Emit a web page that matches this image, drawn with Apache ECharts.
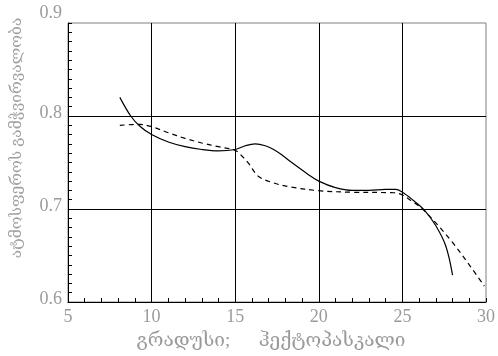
<!DOCTYPE html>
<html>
<head>
<meta charset="utf-8">
<script src="https://cdn.jsdelivr.net/npm/echarts@6/dist/echarts.min.js"></script>
<style>
  html,body{margin:0;padding:0;background:#fff;}
  #chart{width:498px;height:356px;}
</style>
</head>
<body>
<div id="chart"></div>
<script>
  var xTicks = [5, 10, 15, 20, 25, 30];
  var yTicks = [0.6, 0.7, 0.8, 0.9];

  var solidX = [8.1, 8.75, 9.3, 10, 11, 12, 13, 14, 15, 15.6, 16.2, 16.8, 17.3, 17.8, 18.3, 19.3, 20, 21, 22, 23, 24, 24.6, 25, 25.6, 26.3, 27, 27.6, 28];
  var solidY = [0.820, 0.800, 0.789, 0.780, 0.772, 0.767, 0.764, 0.7625, 0.764, 0.768, 0.770, 0.768, 0.764, 0.758, 0.751, 0.738, 0.730, 0.723, 0.720, 0.720, 0.721, 0.721, 0.718, 0.710, 0.699, 0.682, 0.660, 0.629];

  var dashX = [8.1, 9.3, 10, 11, 12, 13, 14, 15, 15.4, 15.8, 16.4, 17.3, 18.3, 20, 22, 24.5, 25, 25.6, 26.2, 27, 28, 29, 29.9];
  var dashY = [0.790, 0.791, 0.7885, 0.782, 0.776, 0.771, 0.767, 0.763, 0.757, 0.749, 0.735, 0.728, 0.7237, 0.7197, 0.718, 0.7175, 0.715, 0.708, 0.700, 0.685, 0.664, 0.640, 0.617];

  var yTitle = 'ატმოსფეროს გამჭვირვალობა';
  var xTitle = 'გრადუსი;      ჰექტოპასკალი';

  function pairs(xs, ys){
    return xs.map(function(x, i){ return [x, ys[i]]; });
  }

  var serif = '"Liberation Serif", "DejaVu Serif", serif';
  var chart = echarts.init(document.getElementById('chart'));

  var option = {
    animation: false,
    grid: {
      left: 68, right: 7, top: 23, bottom: 53,
      show: true, borderColor: '#808080', borderWidth: 1
    },
    xAxis: {
      type: 'value',
      min: xTicks[0], max: xTicks[xTicks.length - 1], interval: 5,
      axisLine: {lineStyle: {color: '#000', width: 1}},
      axisTick: {inside: true, length: 4, lineStyle: {color: '#000'}},
      minorTick: {show: true, splitNumber: 5, length: 4, lineStyle: {color: '#000'}},
      splitLine: {show: true, showMinLine: false, showMaxLine: false, lineStyle: {color: '#000', width: 1}},
      axisLabel: {color: '#9a9a9a', fontFamily: serif, fontSize: 18, margin: 6},
      name: xTitle,
      nameLocation: 'middle',
      nameGap: 30,
      nameTextStyle: {color: '#9a9a9a', fontFamily: serif, fontSize: 19, padding: [0, 12, 0, 0]}
    },
    yAxis: {
      type: 'value',
      min: yTicks[0], max: yTicks[yTicks.length - 1], interval: 0.1,
      axisLine: {show: true, lineStyle: {color: '#000', width: 1}},
      axisTick: {show: true, inside: true, length: 4, lineStyle: {color: '#000'}},
      minorTick: {show: true, splitNumber: 10, length: 4, lineStyle: {color: '#000'}},
      splitLine: {show: true, showMinLine: false, showMaxLine: false, lineStyle: {color: '#000', width: 1}},
      axisLabel: {
        color: '#9a9a9a', fontFamily: serif, fontSize: 18, margin: 6,
        formatter: function(v, i){
          var s = v.toFixed(1);
          return i === yTicks.length - 1 ? '{t|' + s + '}' : '{n|' + s + '}';
        },
        rich: {
          n: {color: '#9a9a9a', fontFamily: serif, fontSize: 18, padding: [0, 0, 5, 0]},
          t: {color: '#9a9a9a', fontFamily: serif, fontSize: 18, padding: [0, 0, 20, 0]}
        }
      }
    },
    graphic: [{
      type: 'text',
      x: 17, y: 138,
      rotation: Math.PI / 2,
      style: {
        text: yTitle,
        fill: '#a0a0a0',
        font: '15.5px "Liberation Serif", "DejaVu Serif", serif',
        align: 'center',
        verticalAlign: 'middle'
      }
    }],
    series: [{
      type: 'line',
      data: pairs(solidX, solidY),
      smooth: 0.35,
      symbol: 'none',
      lineStyle: {color: '#000', width: 1.2},
      z: 5
    }, {
      type: 'line',
      data: pairs(dashX, dashY),
      smooth: 0.35,
      symbol: 'none',
      lineStyle: {color: '#000', width: 1.2, type: [5, 4]},
      z: 5
    }]
  };

  chart.setOption(option);
</script>
</body>
</html>
